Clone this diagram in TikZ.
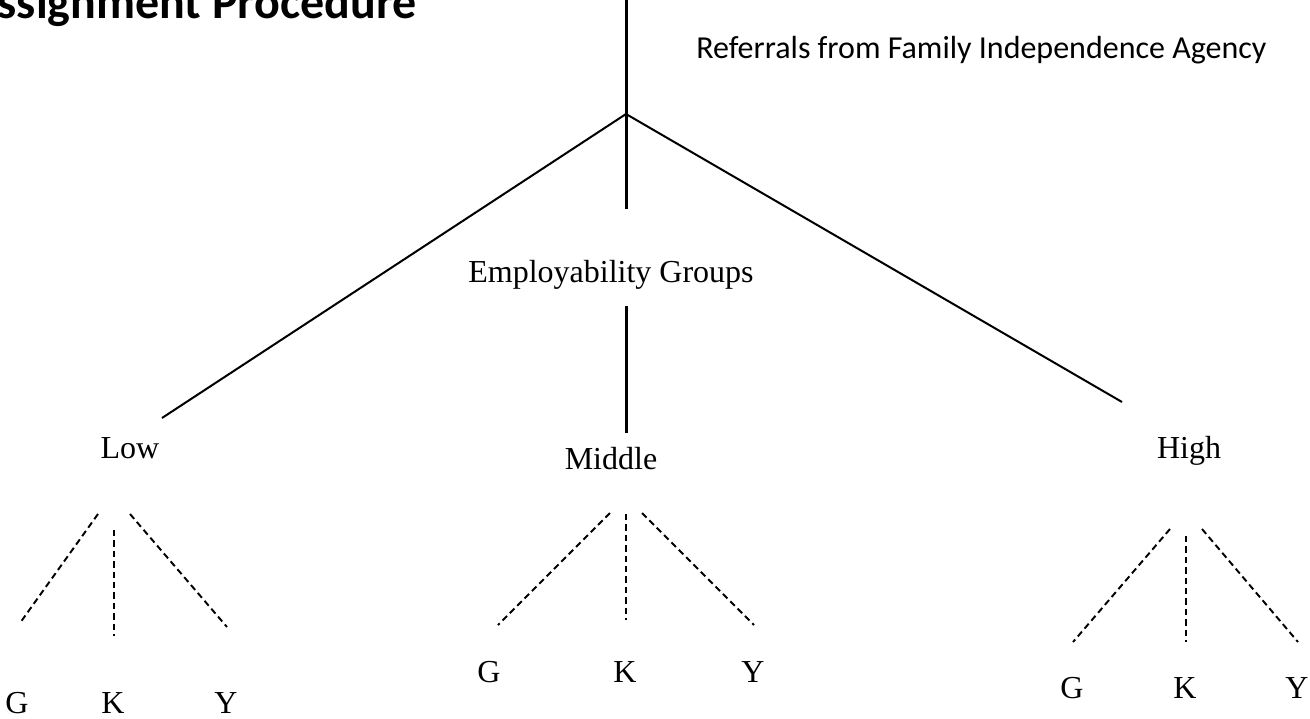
\documentclass[tikz,border=0pt]{standalone}
\usepackage{fontspec}
\setmainfont{Liberation Serif}
\newfontfamily\calibrifont{Carlito}
\begin{document}
\begin{tikzpicture}[x=0.75pt,y=-0.75pt,
  lbl/.style={inner sep=0pt,anchor=base,font=\fontsize{24}{28}\selectfont},
  trunk/.style={line width=2.25pt},
  branch/.style={line width=1.5pt},
  sub/.style={line width=1.45pt,dash pattern=on 4.8pt off 3pt}]
\useasboundingbox (0,0) rectangle (1310,718);

% title and captions
\node[inner sep=0pt,anchor=base east,font=\calibrifont\bfseries\fontsize{36}{40}\selectfont] (title) at (417,18) {Assignment Procedure};
\node[inner sep=0pt,anchor=base west,font=\calibrifont\fontsize{24}{28}\selectfont] (ref) at (696,58) {Referrals from Family Independence Agency};
\node[lbl] (emp) at (611,282) {Employability Groups};
\node[lbl] (low) at (130,458) {Low};
\node[lbl] (mid) at (611,469) {Middle};
\node[lbl] (high) at (1189,458) {High};

\node[lbl] (lg) at (17,713) {G};
\node[lbl] (lk) at (113,713) {K};
\node[lbl] (ly) at (226,713) {Y};
\node[lbl] (mg) at (489,682) {G};
\node[lbl] (mk) at (625,682) {K};
\node[lbl] (my) at (753,682) {Y};
\node[lbl] (hg) at (1072,698) {G};
\node[lbl] (hk) at (1185,698) {K};
\node[lbl] (hy) at (1297,698) {Y};

% main tree
\coordinate (top) at (626,0);
\coordinate (j) at (626,114);
\coordinate (t1) at (626,209);
\coordinate (lowend) at (162,418);
\coordinate (highend) at (1122,402);
\coordinate (m0) at (626,306);
\coordinate (m1) at (626,433);

\draw[trunk] (top) -- (t1);
\draw[trunk] (m0) -- (m1);
\draw[branch] (lowend) -- (j) -- (highend);

% Low subtree
\coordinate (la0) at (98,514);  \coordinate (la1) at (20,623);
\coordinate (lb0) at (114,530); \coordinate (lb1) at (114,636);
\coordinate (lc0) at (130,514); \coordinate (lc1) at (227,627);
\draw[sub] (la0) -- (la1);
\draw[sub] (lb0) -- (lb1);
\draw[sub] (lc0) -- (lc1);

% Middle subtree
\coordinate (ma0) at (610,513); \coordinate (ma1) at (498,625);
\coordinate (mb0) at (626,514); \coordinate (mb1) at (626,620);
\coordinate (mc0) at (642,513); \coordinate (mc1) at (754,625);
\draw[sub] (ma0) -- (ma1);
\draw[sub] (mb0) -- (mb1);
\draw[sub] (mc0) -- (mc1);

% High subtree
\coordinate (ha0) at (1170,529); \coordinate (ha1) at (1073,642);
\coordinate (hb0) at (1186,536); \coordinate (hb1) at (1186,642);
\coordinate (hc0) at (1202,529); \coordinate (hc1) at (1298,642);
\draw[sub] (ha0) -- (ha1);
\draw[sub] (hb0) -- (hb1);
\draw[sub] (hc0) -- (hc1);
\end{tikzpicture}
\end{document}
